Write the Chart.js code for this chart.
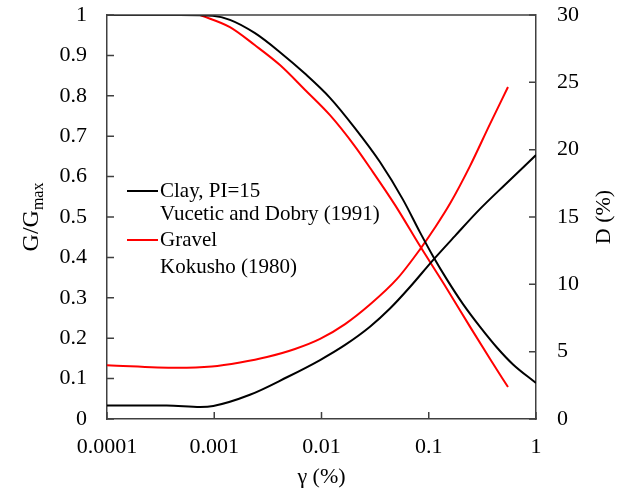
<!DOCTYPE html>
<html>
<head>
<meta charset="utf-8">
<script src="https://cdn.jsdelivr.net/npm/chart.js@4"></script>
<style>
html,body{margin:0;padding:0;background:#fff;}
#wrap{width:624px;height:496px;}
</style>
</head>
<body>
<div id="wrap"><canvas id="c" width="624" height="496"></canvas></div>
<script>
// ---- data ----
const xTicks = [0.0001, 0.001, 0.01, 0.1, 1];
const gTicks = [0, 0.1, 0.2, 0.3, 0.4, 0.5, 0.6, 0.7, 0.8, 0.9, 1];
const dTicks = [0, 5, 10, 15, 20, 25, 30];

const clayGx = [0.0001, 0.00048, 0.00097, 0.0014, 0.0024, 0.0041, 0.0070, 0.0120, 0.0205, 0.0351, 0.0575, 0.0829, 0.1096, 0.148, 0.208, 0.301, 0.432, 0.611, 1];
const clayG  = [1.0, 1.0, 0.998, 0.988, 0.955, 0.908, 0.855, 0.795, 0.72, 0.636, 0.543, 0.462, 0.403, 0.345, 0.285, 0.228, 0.177, 0.135, 0.089];

const gravelGx = [0.00074, 0.0014, 0.0024, 0.0041, 0.0070, 0.0120, 0.0205, 0.0283, 0.0484, 0.0829, 0.148, 0.243, 0.372, 0.548];
const gravelG  = [1.0, 0.97, 0.925, 0.876, 0.815, 0.752, 0.675, 0.622, 0.53, 0.428, 0.322, 0.228, 0.149, 0.079];

const clayDx = [0.0001, 0.00036, 0.00074, 0.00098, 0.00215, 0.00476, 0.0097, 0.0166, 0.0283, 0.0435, 0.0668, 0.1096, 0.176, 0.301, 0.514, 1];
const clayD  = [1.0, 1.0, 0.9, 0.97, 1.8, 3.1, 4.38, 5.5, 6.85, 8.2, 9.8, 11.8, 13.6, 15.6, 17.4, 19.6];

const gravelDx = [0.0001, 0.00045, 0.00095, 0.00174, 0.0031, 0.00566, 0.0097, 0.0166, 0.0283, 0.0506, 0.0829, 0.114, 0.158, 0.243, 0.372, 0.548];
const gravelD  = [4.0, 3.8, 3.9, 4.2, 4.6, 5.2, 5.95, 7.05, 8.5, 10.4, 12.6, 14.2, 16.0, 18.8, 21.9, 24.65];

const legendItems = [
  {lines: ['Clay, PI=15', 'Vucetic and Dobry (1991)'], color: '#000000'},
  {lines: ['Gravel', 'Kokusho (1980)'], color: '#ff0000'}
];

const FONT = '"Liberation Serif", "Times New Roman", serif';
const AXIS = '#404040';

function pts(xs, ys){ return xs.map((x,i)=>({x:x, y:ys[i]})); }

const innerTicks = {
  id: 'innerTicks',
  afterDraw(chart){
    const ctx = chart.ctx, a = chart.chartArea;
    const sx = chart.scales.x, sg = chart.scales.yG, sd = chart.scales.yD;
    ctx.save();
    ctx.strokeStyle = AXIS; ctx.lineWidth = 1.5;
    // frame top
    ctx.beginPath(); ctx.moveTo(a.left, a.top); ctx.lineTo(a.right, a.top); ctx.stroke();
    const L = 7;
    ctx.beginPath();
    xTicks.forEach(v=>{ const p = sx.getPixelForValue(v); ctx.moveTo(p, a.bottom); ctx.lineTo(p, a.bottom - L); });
    gTicks.forEach(v=>{ const p = sg.getPixelForValue(v); ctx.moveTo(a.left, p); ctx.lineTo(a.left + L, p); });
    dTicks.forEach(v=>{ const p = sd.getPixelForValue(v); ctx.moveTo(a.right, p); ctx.lineTo(a.right - L, p); });
    ctx.stroke();

    // legend
    ctx.textBaseline = 'middle';
    ctx.textAlign = 'left';
    ctx.font = '21px ' + FONT;
    ctx.fillStyle = '#000';
    const ys = [[191, 214], [240, 267]];
    legendItems.forEach((it, i)=>{
      ctx.strokeStyle = it.color; ctx.lineWidth = 2;
      ctx.beginPath(); ctx.moveTo(127, ys[i][0]); ctx.lineTo(158, ys[i][0]); ctx.stroke();
      ctx.fillText(it.lines[0], 160, ys[i][0]);
      ctx.fillText(it.lines[1], 160, ys[i][1]);
    });

    // axis titles
    const cy = (a.top + a.bottom) / 2;
    // left: G/Gmax
    ctx.save();
    ctx.translate(30, cy);
    ctx.rotate(-Math.PI/2);
    ctx.textBaseline = 'alphabetic';
    ctx.font = '24px ' + FONT;
    const w1 = ctx.measureText('G/G').width;
    ctx.font = '16px ' + FONT;
    const w2 = ctx.measureText('max').width;
    const start = -(w1 + w2)/2;
    ctx.font = '24px ' + FONT;
    ctx.fillText('G/G', start, 8);
    ctx.font = '16px ' + FONT;
    ctx.fillText('max', start + w1, 13);
    ctx.restore();
    // right: D (%)
    ctx.save();
    ctx.translate(604, cy);
    ctx.rotate(-Math.PI/2);
    ctx.textAlign = 'center';
    ctx.textBaseline = 'middle';
    ctx.font = '22px ' + FONT;
    ctx.fillText('D (%)', 0, 0);
    ctx.restore();
    // bottom: gamma
    ctx.textAlign = 'center';
    ctx.textBaseline = 'middle';
    ctx.font = '22px ' + FONT;
    ctx.fillText('\u03B3 (%)', (a.left + a.right)/2, 477);
    ctx.restore();
  }
};

new Chart(document.getElementById('c'), {
  type: 'line',
  data: {
    datasets: [
      {label: 'Clay G', data: pts(clayGx, clayG), yAxisID: 'yG', borderColor: '#000', borderWidth: 2, pointRadius: 0, cubicInterpolationMode: 'monotone', fill: false},
      {label: 'Clay D', data: pts(clayDx, clayD), yAxisID: 'yD', borderColor: '#000', borderWidth: 2, pointRadius: 0, cubicInterpolationMode: 'monotone', fill: false},
      {label: 'Gravel G', data: pts(gravelGx, gravelG), yAxisID: 'yG', borderColor: '#ff0000', borderWidth: 2, pointRadius: 0, cubicInterpolationMode: 'monotone', fill: false},
      {label: 'Gravel D', data: pts(gravelDx, gravelD), yAxisID: 'yD', borderColor: '#ff0000', borderWidth: 2, pointRadius: 0, cubicInterpolationMode: 'monotone', fill: false}
    ]
  },
  options: {
    responsive: false,
    animation: false,
    devicePixelRatio: 1,
    layout: {padding: {top: 15, left: 0, right: 0, bottom: 0}},
    plugins: {legend: {display: false}, tooltip: {enabled: false}},
    scales: {
      x: {
        type: 'logarithmic', min: 0.0001, max: 1,
        afterBuildTicks(s){ s.ticks = xTicks.map(v=>({value:v})); },
        afterFit(s){ s.height = 77; s.paddingLeft = 0; s.paddingRight = 0; },
        grid: {display: false, drawTicks: false},
        border: {display: true, color: AXIS, width: 1.5},
        ticks: {color: '#000', font: {family: FONT, size: 22}, padding: 15, maxRotation: 0, autoSkip: false,
          callback: (v)=> String(v)}
      },
      yG: {
        type: 'linear', position: 'left', min: 0, max: 1,
        afterBuildTicks(s){ s.ticks = gTicks.map(v=>({value:v})); },
        afterFit(s){ s.width = 107; s.paddingTop = 0; s.paddingBottom = 0; },
        grid: {display: false, drawTicks: false},
        border: {display: true, color: AXIS, width: 1.5},
        ticks: {color: '#000', font: {family: FONT, size: 22}, padding: 20, callback: (v)=> String(Math.round(v*10)/10)}
      },
      yD: {
        type: 'linear', position: 'right', min: 0, max: 30,
        afterBuildTicks(s){ s.ticks = dTicks.map(v=>({value:v})); },
        afterFit(s){ s.width = 88; s.paddingTop = 0; s.paddingBottom = 0; },
        grid: {display: false, drawTicks: false},
        border: {display: true, color: AXIS, width: 1.5},
        ticks: {color: '#000', font: {family: FONT, size: 22}, padding: 21, callback: (v)=> String(v)}
      }
    }
  },
  plugins: [innerTicks]
});
</script>
</body>
</html>
